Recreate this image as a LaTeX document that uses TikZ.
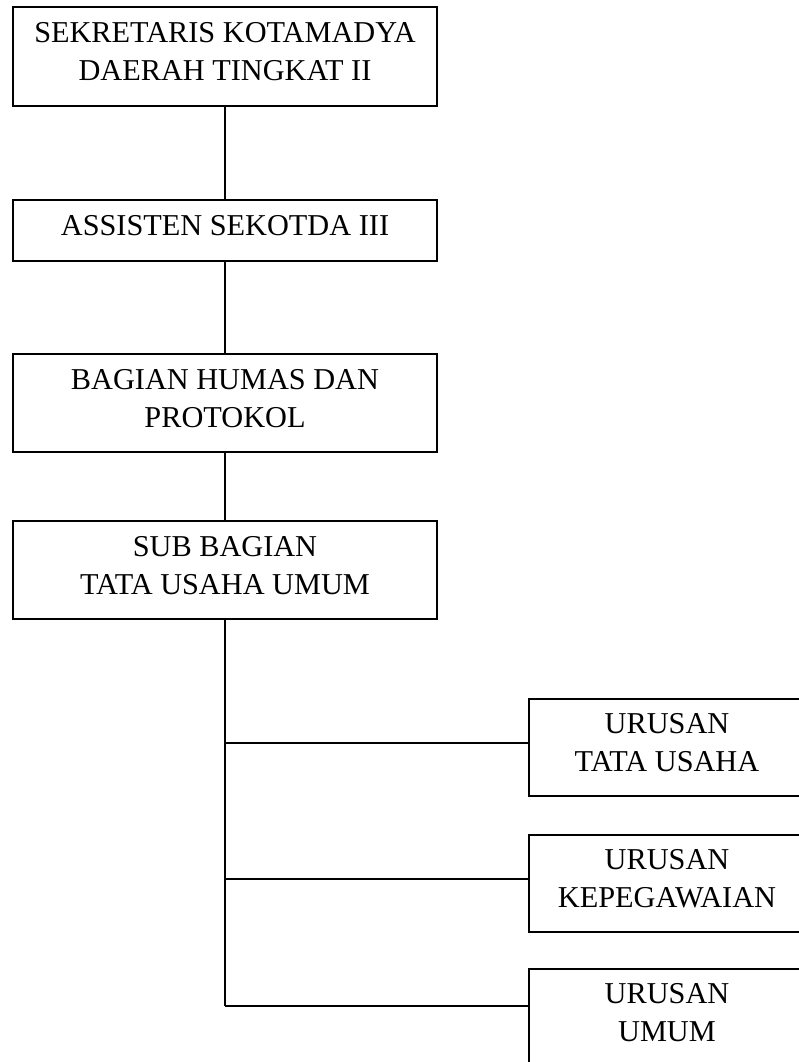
\documentclass[tikz,border=0pt]{standalone}
\usepackage{fontspec}
\setmainfont{Liberation Serif}
\begin{document}
\begin{tikzpicture}[
        x=1pt, y=-1pt,
        line width=1.5pt,
        font=\fontsize{30.3}{38}\selectfont,
        unit/.style={draw, line width=1.5pt, minimum width=424pt, align=center, inner sep=0pt, text depth=10pt},
        urusan/.style={draw, line width=1.5pt, minimum width=276pt, minimum height=97pt, align=center, inner sep=0pt, text depth=10pt}
    ]
        \useasboundingbox (0,0) rectangle (798,1062);

        \node[unit, minimum height=99pt] (sekretaris) at (225,56.5)
            {SEKRETARIS KOTAMADYA\\DAERAH TINGKAT II};
        \node[unit, minimum height=61pt] (assisten) at (225,230.5)
            {ASSISTEN SEKOTDA III};
        \node[unit, minimum height=98pt] (bagian) at (225,403)
            {BAGIAN HUMAS DAN\\PROTOKOL};
        \node[unit, minimum height=98pt] (subBagian) at (225,570)
            {SUB BAGIAN\\TATA USAHA UMUM};

        \node[urusan] (urusanTU) at (667,747.5)
            {URUSAN\\TATA USAHA};
        \node[urusan] (urusanPegawai) at (667,883.5)
            {URUSAN\\KEPEGAWAIAN};
        \node[urusan] (urusanUmum) at (667,1017.5)
            {URUSAN\\UMUM};

        \coordinate (branchTU) at (225,743);
        \coordinate (branchPegawai) at (225,879);
        \coordinate (branchUmum) at (225,1006);

        \draw (sekretaris) -- (assisten);
        \draw (assisten) -- (bagian);
        \draw (bagian) -- (subBagian);
        \draw (subBagian.south) -- (branchUmum);
        \draw (branchTU) -- (branchTU -| urusanTU.west);
        \draw (branchPegawai) -- (branchPegawai -| urusanPegawai.west);
        \draw (branchUmum) -- (branchUmum -| urusanUmum.west);
    \end{tikzpicture}
\end{document}
